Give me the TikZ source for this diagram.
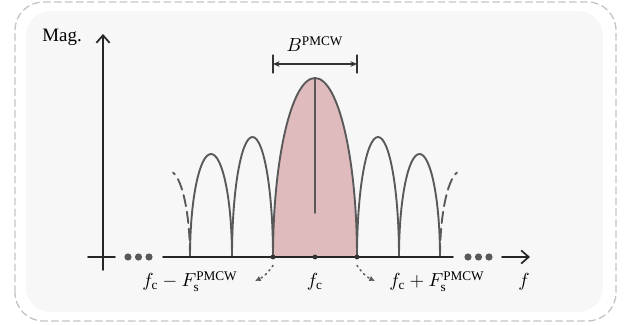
\documentclass[tikz,border=0pt]{standalone}
\usepackage{fontspec}
\setmainfont{Liberation Serif}
\usetikzlibrary{arrows.meta}

\definecolor{lobegray}{HTML}{595959}
\definecolor{lobefill}{HTML}{DFBBBE}
\definecolor{panelgray}{HTML}{F7F7F7}
\definecolor{framegray}{HTML}{C4C4C4}

\tikzset{
  lobe/.style={draw=lobegray,line width=1pt},
  axisline/.style={draw=black!85,line width=0.9pt},
  gapdot/.style={circle,fill=lobegray,inner sep=0pt,minimum size=3.8pt},
  tickdot/.style={circle,fill=black!80,inner sep=0pt,minimum size=2.6pt},
  lbl/.style={anchor=base,inner sep=1pt},
}

\begin{document}
\begin{tikzpicture}[x=0.0186cm,y=0.0186cm,line cap=round,line join=round]
\useasboundingbox (0,0) rectangle (625,326);

% ---- panel and dashed frame ----
\draw[framegray,line width=0.7pt,dash pattern=on 3.6pt off 2.2pt,rounded corners=15pt]
  (15,5) rectangle (616,324);
\fill[panelgray,rounded corners=13pt] (26,14) rectangle (603,315);

% ---- points on the frequency axis ----
\coordinate (L2) at (190,69);
\coordinate (L1) at (232,69);
\coordinate (R1) at (399,69);
\coordinate (R2) at (440,69);

% ---- main lobe (filled) ----
\fill[lobefill] (273,69) arc[start angle=180,end angle=0,x radius=42,y radius=179] -- cycle;
\draw[lobe] (273,69) arc[start angle=180,end angle=0,x radius=42,y radius=179];
\draw[lobe] (315,248) -- (315,113);

% ---- side lobes ----
\draw[lobe] (L1) arc[start angle=180,end angle=0,x radius=20.5,y radius=120];
\draw[lobe] (357,69) arc[start angle=180,end angle=0,x radius=21,y radius=120];
\draw[lobe] (L2) arc[start angle=180,end angle=0,x radius=21,y radius=103];
\draw[lobe] (R1) arc[start angle=180,end angle=0,x radius=20.5,y radius=103];
\draw[lobe,dash pattern=on 6pt off 3pt] (L2) arc[start angle=0,end angle=79,x radius=21,y radius=86];
\draw[lobe,dash pattern=on 6pt off 3pt] (R2) arc[start angle=180,end angle=101,x radius=21,y radius=86];

% ---- axes ----
\coordinate (yfoot) at (103,56);
\coordinate (ytop) at (103,292);
\draw[axisline,-{Straight Barb[length=4pt,width=7pt]}] (yfoot) -- (ytop);
\node[anchor=east,inner sep=1pt] (mag) at (84,289) {Mag.};

\coordinate (x0) at (88,69);
\coordinate (x1) at (115,69);
\coordinate (x2) at (163,69);
\coordinate (x3) at (453,69);
\coordinate (x4) at (502,69);
\coordinate (x5) at (530,69);
\draw[axisline] (x0) -- (x1);
\draw[axisline] (x2) -- (x3);
\draw[axisline,-{Straight Barb[length=4pt,width=7pt]}] (x4) -- (x5);
\foreach \i/\x in {1/128,2/138.5,3/149}{
  \node[gapdot] (ldot\i) at (\x,69) {};
}
\foreach \i/\x in {1/468,2/478.5,3/489}{
  \node[gapdot] (rdot\i) at (\x,69) {};
}
\node[lbl] (flbl) at (524,39) {$f$};

% ---- marked frequencies ----
\node[tickdot] (fl) at (273,69) {};
\node[tickdot] (fc) at (315,69) {};
\node[tickdot] (fr) at (357,69) {};
\node[lbl] (fclbl) at (315,39) {$f_{\mathrm{c}}$};
\node[lbl] (fllbl) at (190,39) {$f_{\mathrm{c}}-F_{\mathrm{s}}^{\mathrm{PMCW}}$};
\node[lbl] (frlbl) at (437,39) {$f_{\mathrm{c}}+F_{\mathrm{s}}^{\mathrm{PMCW}}$};
\coordinate (flend) at (255,45);
\coordinate (frend) at (375,45);
\draw[lobegray,line width=0.8pt,dotted,-{Latex[length=3pt,width=3pt]}]
  ([yshift=-3pt]fl.south) to[bend left=15] (flend);
\draw[lobegray,line width=0.8pt,dotted,-{Latex[length=3pt,width=3pt]}]
  ([yshift=-3pt]fr.south) to[bend right=15] (frend);

% ---- bandwidth ----
\coordinate (bl) at (273,262);
\coordinate (br) at (357,262);
\draw[black!80,line width=0.6pt] (273,253) -- (273,271);
\draw[black!80,line width=0.6pt] (357,253) -- (357,271);
\draw[black!80,line width=0.6pt,{Stealth[length=3.5pt,width=3pt]}-{Stealth[length=3.5pt,width=3pt]}] (bl) -- (br);
\node[lbl] (bw) at (315,274) {$B^{\mathrm{PMCW}}$};

\end{tikzpicture}
\end{document}
